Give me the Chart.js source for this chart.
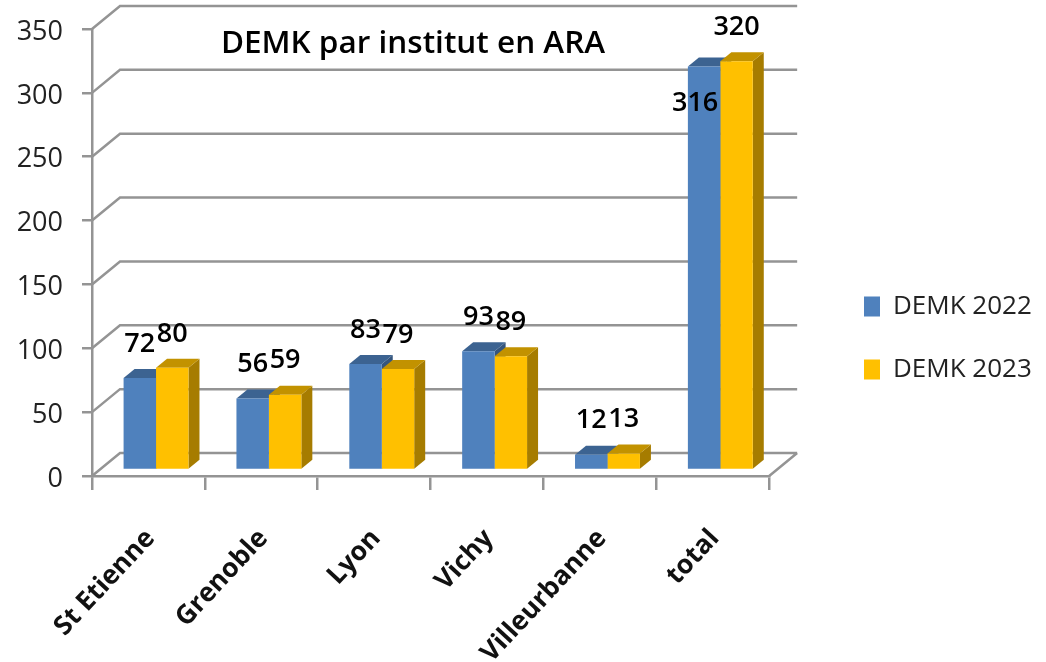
<!DOCTYPE html>
<html>
<head>
<meta charset="utf-8">
<title>DEMK par institut en ARA</title>
<script src="https://cdn.jsdelivr.net/npm/chart.js@4"></script>
<style>
html, body { margin: 0; padding: 0; background: #fff; }
canvas { display: block; }
</style>
</head>
<body>
<canvas id="iChart" width="1046" height="662"></canvas>
<script>
// data
const categories = ["St Etienne", "Grenoble", "Lyon", "Vichy", "Villeurbanne", "total"];
const demk2022 = [72, 56, 83, 93, 12, 316];
const demk2023 = [80, 59, 79, 89, 13, 320];
const yTicks = [0, 50, 100, 150, 200, 250, 300, 350];

const GRID = "#949494";
const WALL_X = 28, WALL_Y = -23;   // back wall offset from the front axes
const BAR_X = 7.6, BAR_Y = -6;     // bars stand a bit inside the floor
const SIDE_X = 11, SIDE_Y = -9;    // bar depth
const faces = [
  { top: "#3c6391", side: "#35557d" },
  { top: "#c29200", side: "#a67c00" }
];

function poly(ctx, pts, color) {
  ctx.fillStyle = color;
  ctx.beginPath();
  pts.forEach((p, i) => i ? ctx.lineTo(p[0], p[1]) : ctx.moveTo(p[0], p[1]));
  ctx.closePath();
  ctx.fill();
}

const walls3d = {
  id: "walls3d",
  afterLayout(chart) {
    // title sits inside the plot, legend right of the back wall
    const t = chart.titleBlock;
    t.left = 92; t.right = 734; t.top = 33; t.bottom = 55;
    const l = chart.legend, h = l.height, w = l.width;
    l.left = 864 - 37; l.right = l.left + w;
    l.top = 7; l.bottom = l.top + h;
    // value axis runs higher than the layout leaves it
    const y = chart.scales.y, a = chart.chartArea;
    y.top = 29;
    y.height = y.bottom - y.top;
    y.configure();
    a.top = 29;
    a.height = a.bottom - a.top;
  },
  beforeDatasetsDraw(chart) {
    const ctx = chart.ctx, y = chart.scales.y, a = chart.chartArea;
    ctx.save();
    ctx.strokeStyle = GRID;
    ctx.lineWidth = 2.5;
    ctx.beginPath();
    yTicks.forEach(v => {
      const py = y.getPixelForValue(v);
      ctx.moveTo(a.left, py);
      ctx.lineTo(a.left + WALL_X, py + WALL_Y);
      ctx.lineTo(a.right + WALL_X, py + WALL_Y);
    });
    const py0 = y.getPixelForValue(0);
    ctx.moveTo(a.right, py0);
    ctx.lineTo(a.right + WALL_X, py0 + WALL_Y);
    ctx.stroke();

    // side and top of the bars, fronts are drawn over them by the library
    [0, 1].forEach(d => {
      chart.getDatasetMeta(d).data.forEach(bar => {
        const x0 = bar.x - bar.width / 2 + BAR_X, x1 = bar.x + bar.width / 2 + BAR_X;
        const top = bar.y + BAR_Y, base = bar.base + BAR_Y;
        poly(ctx, [[x1, top], [x1 + SIDE_X, top + SIDE_Y], [x1 + SIDE_X, base + SIDE_Y], [x1, base]], faces[d].side);
        poly(ctx, [[x0, top], [x0 + SIDE_X, top + SIDE_Y], [x1 + SIDE_X, top + SIDE_Y], [x1, top]], faces[d].top);
      });
    });
    ctx.restore();
  },
  beforeDatasetDraw(chart) {
    chart.ctx.save();
    chart.ctx.translate(BAR_X, BAR_Y);
  },
  afterDatasetDraw(chart) {
    chart.ctx.restore();
  },
  afterDatasetsDraw(chart) {
    const ctx = chart.ctx;
    ctx.save();
    ctx.fillStyle = "#000";
    ctx.font = "600 27px 'Open Sans'";
    ctx.textAlign = "center";
    ctx.textBaseline = "middle";
    [demk2022, demk2023].forEach((vals, d) => {
      chart.getDatasetMeta(d).data.forEach((bar, i) => {
        let x = bar.x + BAR_X, y = bar.y + BAR_Y - 34;
        if (vals[i] === 316) { x -= 9; y += 71; }  // this one sits on the bar
        ctx.fillText(String(vals[i]), x, y);
      });
    });
    ctx.restore();
  }
};

var ctx = document.getElementById("iChart").getContext("2d");
var iChart = new Chart(ctx, {
  type: "bar",
  plugins: [walls3d],
  data: {
    labels: categories,
    datasets: [
      { label: "DEMK 2022", data: demk2022, backgroundColor: "#4f81bd", clip: false },
      { label: "DEMK 2023", data: demk2023, backgroundColor: "#ffc000", clip: false }
    ]
  },
  options: {
    responsive: false,
    animation: false,
    layout: { padding: { right: 62 } },
    datasets: { bar: { barPercentage: 1, categoryPercentage: 0.575 } },
    plugins: {
      title: {
        display: true,
        text: "DEMK par institut en ARA",
        color: "#000",
        padding: 0,
        font: { family: "Open Sans", size: 31.5, weight: "600", lineHeight: "22px" }
      },
      legend: {
        position: "right",
        labels: {
          boxWidth: 16,
          boxHeight: 20,
          padding: 37,
          color: "#222",
          font: { family: "Open Sans", size: 26 }
        }
      },
      tooltip: { enabled: false }
    },
    scales: {
      x: {
        afterFit(s) { s.height = 186; },
        grid: { color: GRID, lineWidth: 2.5, drawOnChartArea: false, tickLength: 14 },
        border: { color: GRID, width: 2.5 },
        ticks: {
          autoSkip: false,
          minRotation: 47,
          maxRotation: 47,
          padding: 33,
          labelOffset: 2,
          color: "#111",
          font: { family: "Open Sans", size: 26.5, weight: "700" }
        }
      },
      y: {
        min: 0,
        max: 350,
        afterFit(s) { s.width = 92; },
        afterBuildTicks(s) { s.ticks = yTicks.map(v => ({ value: v })); },
        grid: { color: GRID, lineWidth: 2.5, drawOnChartArea: false, tickLength: 10 },
        border: { color: GRID, width: 2.5 },
        ticks: {
          padding: 19,
          labelOffset: 3,
          color: "#222",
          font: { family: "Open Sans", size: 27 }
        }
      }
    }
  }
});
</script>
</body>
</html>
